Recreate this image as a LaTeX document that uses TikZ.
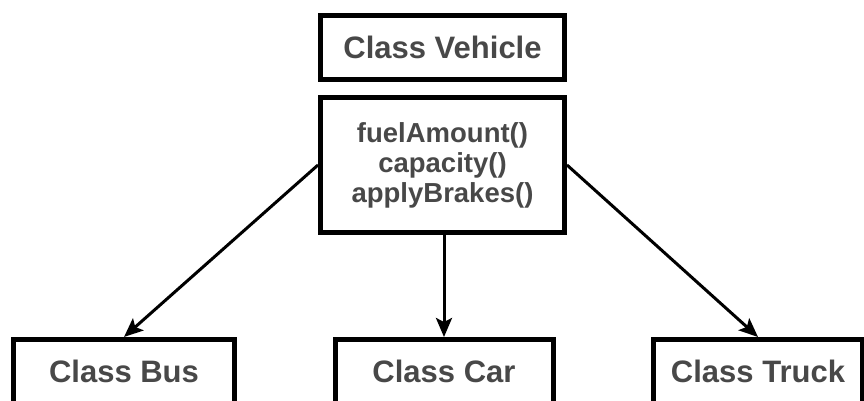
\documentclass[tikz,border=0pt]{standalone}
\usepackage{fontspec}
\setmainfont{Liberation Sans}
\usetikzlibrary{arrows.meta}

\definecolor{txtgray}{HTML}{484848}

\begin{document}
\begin{tikzpicture}[x=1pt,y=-1pt,
    classbox/.style={draw, line width=5pt, inner sep=0pt, text=txtgray,
        font=\bfseries\fontsize{31}{36}\selectfont, minimum height=64pt},
    methodbox/.style={draw, line width=5pt, inner sep=0pt, text=txtgray, align=center,
        font=\bfseries\fontsize{27.5}{30}\selectfont},
    inherit/.style={line width=3pt, -{Stealth[length=19pt,width=16pt,inset=4pt]}}]
        % Fix the page and cut the lower boxes
        \useasboundingbox (0,0) rectangle (864,401);
        \clip (0,0) rectangle (864,401);

        % Draw the parent class and its methods
        \node[classbox, minimum width=244pt] (vehicle) at (442.5,47.5) {Class Vehicle};
        \node[methodbox, minimum width=244pt, minimum height=135pt] (methods) at (442.5,165)
            {fuelAmount()\\capacity()\\applyBrakes()};

        % Draw the child classes
        \node[classbox, minimum width=221pt] (bus) at (124,371.5) {Class Bus};
        \node[classbox, minimum width=218pt] (car) at (444,371.5) {Class Car};
        \node[classbox, minimum width=209pt] (truck) at (758,371.5) {Class Truck};

        % Draw the arrows
        \draw[inherit] (methods.west) -- (bus.north);
        \draw[inherit] (methods.south -| car.north) -- (car.north);
        \draw[inherit] (methods.east) -- (truck.north);
    \end{tikzpicture}
\end{document}
